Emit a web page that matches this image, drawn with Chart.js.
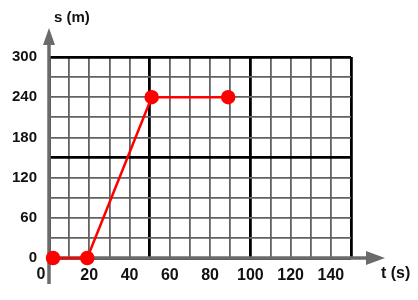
<!DOCTYPE html>
<html>
<head>
<meta charset="utf-8">
<script src="https://cdn.jsdelivr.net/npm/chart.js@4.4.0/dist/chart.umd.min.js"></script>
<style>
    html, body { margin: 0; padding: 0; background: #fff; }
    #wrap { width: 418px; height: 300px; }
</style>
</head>
<body>
<div id="wrap"><canvas id="motionChart" width="418" height="300"></canvas></div>
<script>
// time (s) and position (m)
const timeValues = [2, 19, 51, 89];
const positionValues = [0, 0, 240, 240];

// axis ranges / ticks
const xMin = 0, xMax = 150, xStep = 10, xLabelStep = 20, xMajor = 50;
const yMin = 0, yMax = 300, yStep = 30, yLabelStep = 60, yMajor = 150;

const xTitle = "t (s)";
const yTitle = "s (m)";

const FONT = "Arial, 'Liberation Sans', sans-serif";

const points = timeValues.map((t, i) => ({ x: t, y: positionValues[i] }));

/* ===================== AXES WITH ARROWS ===================== */
const arrowAxes = {
    id: "arrowAxes",
    beforeDatasetsDraw(chart) {
        const { ctx, chartArea, scales } = chart;
        const x0 = scales.x.getPixelForValue(0);
        const y0 = scales.y.getPixelForValue(0);
        ctx.save();
        ctx.strokeStyle = "#6b6b6b";
        ctx.fillStyle = "#6b6b6b";
        ctx.lineWidth = 3.5;

        // vertical axis
        ctx.beginPath();
        ctx.moveTo(x0, chartArea.bottom + 26);
        ctx.lineTo(x0, chartArea.top - 13);
        ctx.stroke();
        ctx.beginPath();
        ctx.moveTo(x0, chartArea.top - 29);
        ctx.lineTo(x0 - 6, chartArea.top - 12);
        ctx.lineTo(x0 + 6, chartArea.top - 12);
        ctx.closePath();
        ctx.fill();

        // horizontal axis
        ctx.beginPath();
        ctx.moveTo(x0, y0);
        ctx.lineTo(chartArea.right + 16, y0);
        ctx.stroke();
        ctx.beginPath();
        ctx.moveTo(chartArea.right + 34, y0);
        ctx.lineTo(chartArea.right + 15, y0 - 7);
        ctx.lineTo(chartArea.right + 15, y0 + 7);
        ctx.closePath();
        ctx.fill();
        ctx.restore();
    },
    afterDraw(chart) {
        const { ctx, chartArea, scales } = chart;
        const x0 = scales.x.getPixelForValue(0);
        const y0 = scales.y.getPixelForValue(0);
        ctx.save();
        ctx.fillStyle = "#111";
        ctx.font = "bold 16px " + FONT;
        ctx.textBaseline = "middle";
        ctx.textAlign = "center";
        ctx.fillText("0", x0 - 8, y0 + 17);

        ctx.font = "bold 15px " + FONT;
        ctx.textAlign = "left";
        ctx.fillText(yTitle, x0 + 5, chartArea.top - 39);
        ctx.font = "bold 16px " + FONT;
        ctx.fillText(xTitle, chartArea.right + 30, y0 + 16);
        ctx.restore();
    },
};

const isMajor = (value, major) => value % major === 0;

new Chart(document.getElementById("motionChart"), {
    type: "scatter",
    data: {
        datasets: [
            {
                data: points,
                showLine: true,
                borderColor: "#ff0000",
                backgroundColor: "#ff0000",
                borderWidth: 2.5,
                pointRadius: 6,
                pointHoverRadius: 6,
                clip: false,
            },
        ],
    },
    options: {
        responsive: false,
        animation: false,
        events: [],
        layout: {
            padding: { left: 0, top: 57, right: 67, bottom: 0 },
        },
        plugins: {
            legend: { display: false },
            tooltip: { enabled: false },
        },
        scales: {
            x: {
                type: "linear",
                min: xMin,
                max: xMax,
                border: { display: false },
                grid: {
                    drawTicks: false,
                    color: (c) => (c.tick && isMajor(c.tick.value, xMajor) ? "#000" : "#626262"),
                    lineWidth: (c) => (c.tick && isMajor(c.tick.value, xMajor) ? 2.8 : 1.8),
                },
                ticks: {
                    stepSize: xStep,
                    autoSkip: false,
                    maxRotation: 0,
                    padding: 8,
                    color: "#111",
                    font: { family: FONT, size: 16, weight: "bold" },
                    callback: (v) => (v > 0 && v < xMax && v % xLabelStep === 0 ? String(v) : ""),
                },
                afterFit: (scale) => { scale.height = 42; },
            },
            y: {
                type: "linear",
                min: yMin,
                max: yMax,
                border: { display: false },
                grid: {
                    drawTicks: false,
                    color: (c) => (c.tick && isMajor(c.tick.value, yMajor) ? "#000" : "#626262"),
                    lineWidth: (c) => (c.tick && isMajor(c.tick.value, yMajor) ? 2.8 : 1.8),
                },
                ticks: {
                    stepSize: yStep,
                    autoSkip: false,
                    padding: 12,
                    color: "#111",
                    font: { family: FONT, size: 15, weight: "bold" },
                    callback: (v) => (v % yLabelStep === 0 ? String(v) : ""),
                },
                afterFit: (scale) => { scale.width = 49; },
            },
        },
    },
    plugins: [arrowAxes],
});
</script>
</body>
</html>
